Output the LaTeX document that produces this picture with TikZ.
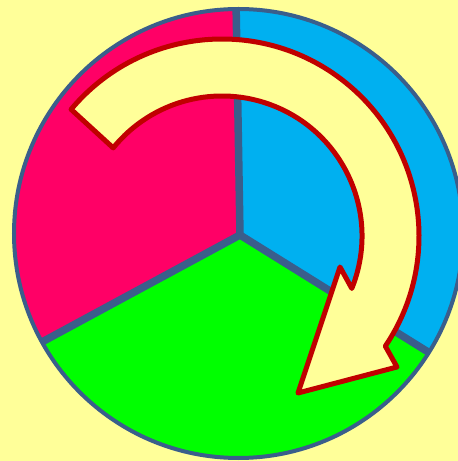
\documentclass[tikz,border=0pt]{standalone}
\definecolor{bg}{HTML}{FFFF99}
\definecolor{pinkc}{HTML}{FF0066}
\definecolor{bluec}{HTML}{00B0F0}
\definecolor{greenc}{HTML}{00FF00}
\definecolor{edgec}{HTML}{3A5E8B}
\definecolor{redc}{HTML}{C00000}
\tikzset{
  slice/.style={draw=none},
  divider/.style={draw=edgec, line width=7.5pt},
  rim/.style={draw=edgec, line width=4pt},
  bigarrow/.style={fill=bg, draw=redc, line width=5pt, line join=round}
}
\begin{document}
\begin{tikzpicture}[x=1pt,y=1pt]
\useasboundingbox (0,0) rectangle (458,461);
\fill[bg] (0,0) rectangle (458,461);
\clip (0,0) rectangle (458,461);
\coordinate (O) at (238.5,227.5);
\coordinate (J) at (240,226);
\coordinate (T) at ([shift={(O)}]90.6:224.5);
\coordinate (R) at ([shift={(O)}]-32:224.5);
\coordinate (L) at ([shift={(O)}]208.9:224.5);
% slices
\fill[bluec] (J) -- (T) arc[start angle=90.6, end angle=-32, radius=224.5] -- cycle;
\fill[greenc] (J) -- (R) arc[start angle=-32, end angle=-151.1, radius=224.5] -- cycle;
\fill[pinkc] (J) -- (L) arc[start angle=-151.1, end angle=-269.4, radius=224.5] -- cycle;
% dividers
\draw[divider] (T) -- (J);
\draw[divider] (R) -- (J);
\draw[divider] (L) -- (J);
% rim
\draw[rim] (O) circle[radius=224.5];
% curved arrow
\coordinate (A) at (222,225);
\draw[bigarrow] ([shift={(A)}]140:197) arc[start angle=140, end angle=-34, radius=197]
  -- (397,94) -- (298,68) -- (340,194) -- ([shift={(A)}]-22:140)
  arc[start angle=-22, end angle=141, radius=140] -- cycle;
\end{tikzpicture}
\end{document}
